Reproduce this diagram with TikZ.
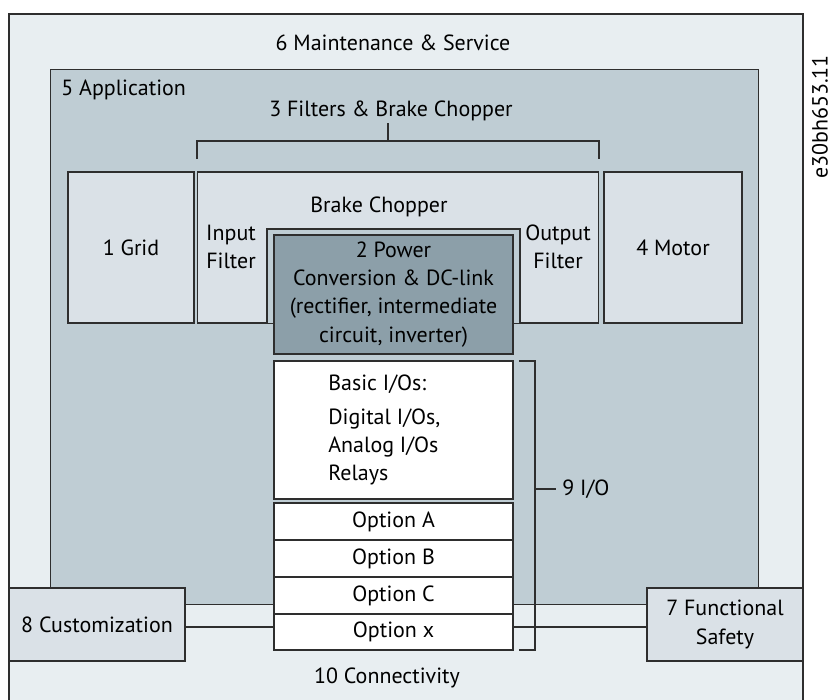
\documentclass[tikz,border=0pt]{standalone}
\usepackage{fontspec}
\setmainfont{PT Sans}
\usetikzlibrary{positioning}
\definecolor{svcbg}{HTML}{E8EEF1}
\definecolor{appbg}{HTML}{BFCDD4}
\definecolor{boxbg}{HTML}{DAE1E7}
\definecolor{pwrbg}{HTML}{8C9FA9}
\definecolor{edge}{HTML}{2E2E2E}
\newcommand{\dgfont}{\fontsize{12.5}{16}\selectfont}

\begin{document}
\begin{tikzpicture}[x=0.02cm,y=-0.02cm,
  blk/.style={draw=edge,line width=0.6pt,fill=boxbg,inner sep=0pt,align=center,font=\dgfont},
  iobox/.style={blk,fill=white,minimum width=4.78cm},
  optbox/.style={iobox,minimum height=0.74cm},
  lbl/.style={inner sep=0pt,align=center,font=\dgfont},
  link/.style={draw=edge,line width=0.6pt}]
\useasboundingbox (0,0) rectangle (833,700);
% maintenance frame
\fill[svcbg] (9,14) rectangle (803,700);
\draw[link] (9,700)--(9,14)--(803,14)--(803,700);
\node[lbl] (t6) at (393,43) {6 Maintenance \& Service};
% application
\node[blk,fill=appbg,minimum width=14.18cm,minimum height=10.72cm] (app) at (404.5,337) {};
\node[lbl,anchor=west] (t5) at (61,90) {5 Application};
\node[lbl] (t3) at (391,111) {3 Filters \& Brake Chopper};
\draw[link] (197,159)--(197,141)--(599,141)--(599,159);
\draw[link] (388,123)--(388,141);
% grid, filters, motor
\node[blk,minimum width=2.52cm,minimum height=3.02cm] (grid) at (131,247.5) {1 Grid};
\node[blk,minimum width=8.04cm,minimum height=3.02cm] (filt) at (398,247.5) {};
\filldraw[link,fill=appbg] (267,323)--(267,229)--(520,229)--(520,323);
\node[lbl] (brk) at (379,207) {Brake Chopper};
\node[lbl] (inf) at (231,246.5) {Input\\Filter};
\node[lbl] (outf) at (558,246.5) {Output\\Filter};
\node[blk,minimum width=2.76cm,minimum height=3.02cm] (motor) at (673,247.5) {4 Motor};
% power conversion
\node[blk,fill=pwrbg,minimum width=4.78cm,minimum height=2.38cm] (pwr) at (393.5,294.5) {2 Power\\Conversion \& DC-link\\(rectifier, intermediate\\circuit, inverter)};
% I/O column
\node[iobox,minimum height=2.76cm] (basic) at (393.5,430) {};
\node[lbl,anchor=north west,align=left] (basict) at (328,375) {Basic I/Os:\\[3pt]Digital I/Os,\\Analog I/Os\\Relays};
\node[optbox] (optA) at (393.5,521.5) {Option A};
\node[optbox] (optB) at (393.5,558.5) {Option B};
\node[optbox] (optC) at (393.5,595.5) {Option C};
\node[optbox,minimum height=0.72cm] (optX) at (393.5,632) {Option x};
\draw[link] (519,361)--(535,361)--(535,650)--(519,650);
\node[lbl,anchor=west] (t9) at (562,489) {9 I/O};
\draw[link] (535,489)--([xshift=-0.12cm]t9.west);
% customization and safety
\node[blk,minimum width=3.52cm,minimum height=1.46cm] (cust) at (97,624.5) {8 Customization};
\node[blk,minimum width=3.12cm,minimum height=1.46cm] (safe) at (725,624.5) {7 Functional\\Safety};
\draw[link] (cust.east |- 0,627)--(optX.west |- 0,627);
\draw[link] (optX.east |- 0,627)--(safe.west |- 0,627);
\node[lbl] (t10) at (387,678) {10 Connectivity};
\node[lbl,rotate=90] (ref) at (820,117) {e30bh653.11};
\end{tikzpicture}
\end{document}
